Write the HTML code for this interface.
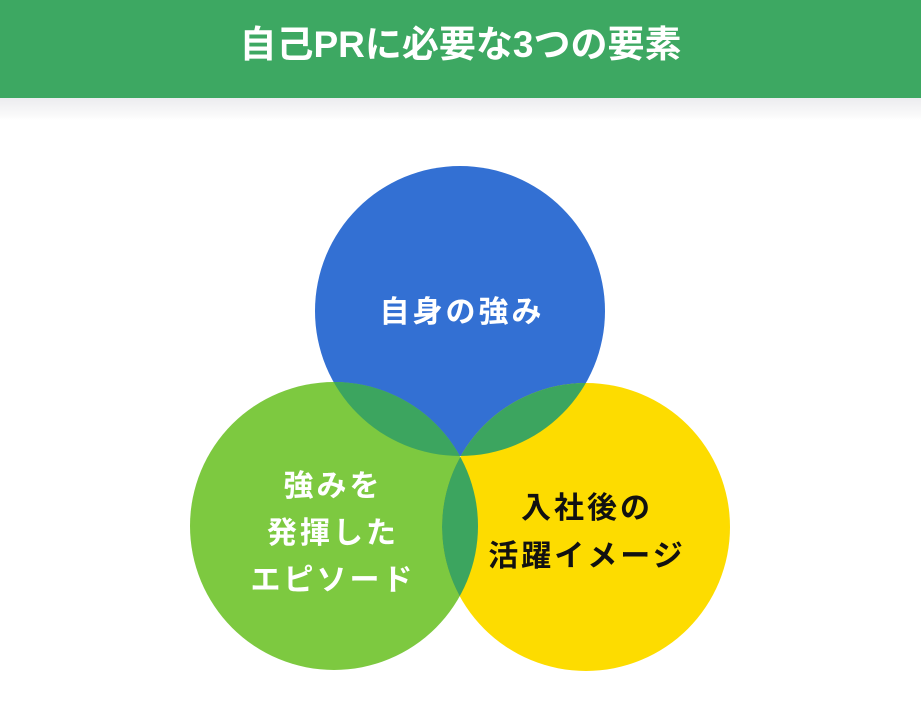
<!DOCTYPE html>
<html><head><meta charset="utf-8"><style>
body{margin:0;width:921px;height:710px;background:#fff;overflow:hidden;font-family:"Liberation Sans","Noto Sans CJK JP",sans-serif}
.h{position:absolute;left:0;top:0;width:921px;height:98px;background:#3da862;color:#fff;font-size:37px;font-weight:bold;text-align:center;line-height:90px}
.g{position:absolute;left:0;top:98px;width:921px;height:22px;background:linear-gradient(#ececef,#fafafa 80%,#fff)}
svg{position:absolute;left:0;top:0}
</style></head><body>
<div class="h">自己PRに必要な3つの要素</div>
<div class="g"></div>
<svg width="921" height="710">
<defs>
<clipPath id="cb"><circle cx="460" cy="311" r="145"/></clipPath>
<clipPath id="cg"><circle cx="334" cy="526" r="144"/></clipPath>
</defs>
<circle cx="460" cy="311" r="145" fill="#3370d3"/>
<circle cx="334" cy="526" r="144" fill="#7dc940"/>
<circle cx="586" cy="527" r="144" fill="#fddc00"/>
<circle cx="334" cy="526" r="144" fill="#3ca55f" clip-path="url(#cb)"/>
<circle cx="586" cy="527" r="144" fill="#3ca55f" clip-path="url(#cb)"/>
<circle cx="586" cy="527" r="144" fill="#3ca55f" clip-path="url(#cg)"/>
<g font-family="Liberation Sans,Noto Sans CJK JP,sans-serif" font-weight="bold" font-size="30" text-anchor="middle" letter-spacing="3">
<text x="462" y="322" fill="#fff">自身の強み</text>
<text x="333" y="496" fill="#fff">強みを</text>
<text x="333" y="543" fill="#fff">発揮した</text>
<text x="333" y="590" fill="#fff">エピソード</text>
<text x="587" y="518" fill="#111">入社後の</text>
<text x="587" y="566" fill="#111">活躍イメージ</text>
</g>
</svg>
</body></html>
